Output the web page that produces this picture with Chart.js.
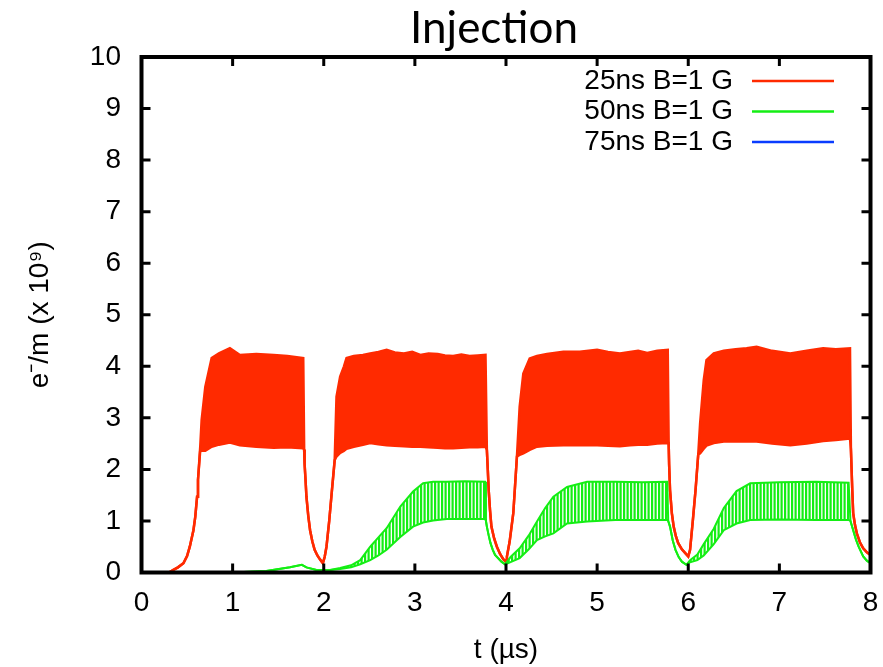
<!DOCTYPE html>
<html>
<head>
<meta charset="utf-8">
<title>Injection</title>
<script src="https://cdn.jsdelivr.net/npm/chart.js@4.4.1/dist/chart.umd.min.js"></script>
<style>
  body { margin: 0; background: #fff; }
</style>
</head>
<body>
<canvas id="chart" width="883" height="667"></canvas>
<script>
// DATA (t in microseconds, values in 1e9 e-/m)

const seriesLabels = ['25ns B=1 G', '50ns B=1 G', '75ns B=1 G'];
const xTicks = [0, 1, 2, 3, 4, 5, 6, 7, 8];
const yTicks = [0, 1, 2, 3, 4, 5, 6, 7, 8, 9, 10];

// 25ns: upper / lower edge of the fast oscillation (equal where it is a single line)
const tRed = [
    0, 0.30, 0.35, 0.40, 0.46, 0.50, 0.53, 0.57, 0.59, 0.61, 0.62, 0.645, 0.66, 0.70, 0.77, 0.85, 0.97, 1.08, 1.26, 1.45, 1.60, 1.775,
    1.785, 1.79, 1.80, 1.81, 1.83, 1.85, 1.875, 1.90, 1.93, 1.96, 1.99,
    2.01, 2.03, 2.06, 2.09, 2.12, 2.14, 2.18, 2.22, 2.25, 2.33, 2.43, 2.51, 2.60, 2.69, 2.78, 2.88, 2.97, 3.06, 3.15, 3.25, 3.33, 3.42, 3.51, 3.60, 3.69, 3.775,
    3.79, 3.80, 3.81, 3.825, 3.84, 3.87, 3.90, 3.935, 3.97, 4.00,
    4.01, 4.04, 4.08, 4.10, 4.12, 4.15, 4.19, 4.26, 4.34, 4.45, 4.63, 4.81, 5.00, 5.12, 5.25, 5.36, 5.45, 5.55, 5.66, 5.775,
    5.785, 5.79, 5.80, 5.82, 5.84, 5.865, 5.89, 5.93, 5.97, 6.00,
    6.02, 6.05, 6.08, 6.11, 6.13, 6.17, 6.20, 6.28, 6.39, 6.52, 6.64, 6.75, 6.92, 7.12, 7.30, 7.48, 7.62, 7.775,
    7.785, 7.80, 7.81, 7.83, 7.85, 7.885, 7.92, 7.96, 8.00
];
const redHigh = [
    0, 0, 0.05, 0.1, 0.18, 0.32, 0.5, 0.82, 1.08, 1.47, 1.8, 2.45, 2.96, 3.6, 4.16, 4.25, 4.35, 4.22, 4.24, 4.22, 4.2, 4.16,
    2.38, 2.1, 1.8, 1.47, 1.1, 0.82, 0.6, 0.44, 0.33, 0.25, 0.18,
    0.3, 0.5, 1.0, 1.6, 2.18, 3.41, 3.8, 3.99, 4.16, 4.2, 4.22, 4.25, 4.28, 4.32, 4.27, 4.25, 4.28, 4.22, 4.25, 4.24, 4.21, 4.2, 4.23, 4.2, 4.21, 4.22,
    2.38, 2.0, 1.6, 1.2, 0.89, 0.66, 0.5, 0.36, 0.26, 0.21,
    0.31, 0.6, 1.15, 1.7, 2.25, 3.22, 3.86, 4.15, 4.2, 4.24, 4.28, 4.28, 4.32, 4.28, 4.25, 4.28, 4.3, 4.26, 4.3, 4.32,
    2.51, 2.1, 1.6, 1.15, 0.89, 0.7, 0.57, 0.45, 0.37, 0.31,
    0.44, 1.0, 1.6, 2.3, 2.89, 3.73, 4.12, 4.25, 4.3, 4.33, 4.35, 4.38, 4.3, 4.25, 4.3, 4.35, 4.33, 4.35,
    2.4, 1.6, 1.15, 0.92, 0.76, 0.58, 0.47, 0.39, 0.34
];
const redLow = [
    0, 0, 0.05, 0.1, 0.18, 0.32, 0.5, 0.82, 1.08, 1.47, 1.8, 2.38, 2.36, 2.36, 2.44, 2.48, 2.52, 2.47, 2.44, 2.42, 2.43, 2.41,
    2.38, 2.1, 1.8, 1.47, 1.1, 0.82, 0.6, 0.44, 0.33, 0.25, 0.18,
    0.3, 0.5, 1.0, 1.6, 2.18, 2.25, 2.32, 2.36, 2.4, 2.44, 2.48, 2.51, 2.49, 2.47, 2.46, 2.45, 2.44, 2.44, 2.43, 2.42, 2.41, 2.41, 2.42, 2.43, 2.43, 2.44,
    2.38, 2.0, 1.6, 1.2, 0.89, 0.66, 0.5, 0.36, 0.26, 0.21,
    0.31, 0.6, 1.15, 1.7, 2.25, 2.28, 2.31, 2.38, 2.44, 2.46, 2.47, 2.47, 2.47, 2.46, 2.45, 2.47, 2.48, 2.48, 2.5, 2.51,
    2.51, 2.1, 1.6, 1.15, 0.89, 0.7, 0.57, 0.45, 0.37, 0.31,
    0.44, 1.0, 1.6, 2.3, 2.31, 2.4, 2.46, 2.51, 2.54, 2.54, 2.54, 2.54, 2.5, 2.47, 2.5, 2.55, 2.57, 2.6,
    2.4, 1.6, 1.15, 0.92, 0.76, 0.58, 0.47, 0.39, 0.34
];

// 50ns: upper / lower edge of the zigzag
const tGreen = [
    0, 1.00, 1.37, 1.63, 1.76, 1.81, 1.92, 2.07, 2.18, 2.30, 2.40, 2.51, 2.60, 2.69, 2.84, 2.98, 3.09, 3.20, 3.35, 3.55, 3.77,
    3.78, 3.79, 3.81, 3.83, 3.855, 3.88, 3.95, 3.99,
    4.05, 4.15, 4.25, 4.34, 4.43, 4.52, 4.67, 4.89, 5.20, 5.50, 5.77,
    5.78, 5.80, 5.83, 5.86, 5.895, 5.93, 5.98,
    6.02, 6.10, 6.17, 6.28, 6.39, 6.53, 6.68, 7.00, 7.40, 7.76,
    7.78, 7.81, 7.84, 7.87, 7.92, 7.96, 8.00
];
const greenHigh = [
    0, 0, 0.03, 0.1, 0.15, 0.1, 0.05, 0.05, 0.09, 0.14, 0.24, 0.5, 0.68, 0.86, 1.28, 1.57, 1.73, 1.76, 1.76, 1.77, 1.76,
    1.0, 0.89, 0.72, 0.57, 0.44, 0.34, 0.21, 0.16,
    0.3, 0.47, 0.72, 0.99, 1.25, 1.47, 1.66, 1.76, 1.76, 1.75, 1.76,
    1.0, 0.89, 0.62, 0.44, 0.3, 0.21, 0.15,
    0.24, 0.35, 0.55, 0.85, 1.25, 1.58, 1.73, 1.75, 1.76, 1.74,
    1.0, 0.82, 0.64, 0.5, 0.31, 0.23, 0.18
];
const greenLow = [
    0, 0, 0.03, 0.1, 0.15, 0.1, 0.05, 0.05, 0.07, 0.1, 0.16, 0.24, 0.33, 0.44, 0.69, 0.89, 0.97, 1.01, 1.04, 1.04, 1.04,
    1.0, 0.89, 0.72, 0.57, 0.44, 0.34, 0.21, 0.16,
    0.2, 0.28, 0.45, 0.63, 0.7, 0.76, 0.95, 0.99, 1.02, 1.02, 1.02,
    1.0, 0.89, 0.62, 0.44, 0.3, 0.21, 0.15,
    0.2, 0.24, 0.33, 0.55, 0.82, 0.95, 1.02, 1.03, 1.02, 1.02,
    1.0, 0.82, 0.64, 0.5, 0.31, 0.23, 0.18
];

// 75ns: stays on zero
const tBlue = [0, 8];
const blueVals = [0, 0];

// STYLE

const RED = '#ff2a00';
const GREEN = '#14ee14';
const BLUE = '#0a3cff';
const FONT = 'Liberation Sans, Arial, Helvetica, sans-serif';

function pts(ts, vs) {
    return ts.map((t, i) => ({ x: t, y: vs[i] }));
}

// zigzag look for the 50ns band
const stripe = document.createElement('canvas');
stripe.width = 7;
stripe.height = 4;
const sctx = stripe.getContext('2d');
sctx.fillStyle = GREEN;
sctx.fillRect(0, 0, 2.2, 4);
sctx.fillRect(3.5, 0, 2.2, 4);

const canvas = document.getElementById('chart');
const ctx = canvas.getContext('2d');
const greenPattern = ctx.createPattern(stripe, 'repeat');

// FRAME, INWARD TICKS, LEGEND, TITLE

const gnuplotLook = {
    id: 'gnuplotLook',
    afterDatasetsDraw(chart) {
        const c = chart.ctx;
        const { left, right, top, bottom } = chart.chartArea;
        const xs = chart.scales.x;
        const ys = chart.scales.y;

        c.save();
        c.strokeStyle = '#000';
        c.lineWidth = 3;
        xTicks.forEach(v => {
            const px = xs.getPixelForValue(v);
            c.beginPath();
            c.moveTo(px, bottom); c.lineTo(px, bottom - 9);
            c.moveTo(px, top); c.lineTo(px, top + 9);
            c.stroke();
        });
        yTicks.forEach(v => {
            const py = ys.getPixelForValue(v);
            c.beginPath();
            c.moveTo(left, py); c.lineTo(left + 9, py);
            c.moveTo(right, py); c.lineTo(right - 9, py);
            c.stroke();
        });
        c.lineWidth = 4;
        c.strokeRect(left, top, right - left, bottom - top);

        // legend
        const colors = [RED, GREEN, BLUE];
        c.font = '28px ' + FONT;
        c.fillStyle = '#000';
        c.textAlign = 'right';
        c.textBaseline = 'middle';
        seriesLabels.forEach((label, i) => {
            const y = 81 + i * 30.5;
            c.fillText(label, 733, y);
            c.strokeStyle = colors[i];
            c.lineWidth = 2.5;
            c.beginPath();
            c.moveTo(752, y);
            c.lineTo(834, y);
            c.stroke();
        });

        // title
        c.font = '44px Lato, sans-serif';
        c.textAlign = 'center';
        c.textBaseline = 'alphabetic';
        c.fillText('Injection', 494, 43);
        c.restore();
    }
};

// CHART

new Chart(ctx, {
    type: 'line',
    data: {
        datasets: [
            {
                label: seriesLabels[2],
                data: pts(tBlue, blueVals),
                borderColor: BLUE,
                borderWidth: 2.5,
                fill: false
            },
            {
                label: seriesLabels[1],
                data: pts(tGreen, greenHigh),
                borderColor: GREEN,
                borderWidth: 2,
                backgroundColor: greenPattern,
                fill: '+1'
            },
            {
                label: seriesLabels[1] + ' low',
                data: pts(tGreen, greenLow),
                borderColor: GREEN,
                borderWidth: 2,
                fill: false
            },
            {
                label: seriesLabels[0],
                data: pts(tRed, redHigh),
                borderColor: RED,
                borderWidth: 2.5,
                backgroundColor: RED,
                fill: '+1'
            },
            {
                label: seriesLabels[0] + ' low',
                data: pts(tRed, redLow),
                borderColor: RED,
                borderWidth: 2.5,
                fill: false
            }
        ]
    },
    options: {
        responsive: false,
        animation: false,
        devicePixelRatio: 1,
        layout: { padding: { top: 57, right: 12.5, left: 0, bottom: 0 } },
        elements: { point: { radius: 0 }, line: { tension: 0 } },
        plugins: {
            legend: { display: false },
            title: { display: false },
            tooltip: { enabled: false }
        },
        scales: {
            x: {
                type: 'linear',
                min: 0,
                max: 8,
                afterFit: s => {
                    s.height = 94.5;
                    s.paddingLeft = 0;
                    s.paddingRight = 0;
                },
                afterBuildTicks: s => { s.ticks = xTicks.map(v => ({ value: v })); },
                grid: { display: false, drawTicks: false },
                border: { display: false },
                ticks: {
                    color: '#000',
                    font: { family: FONT, size: 28 },
                    padding: 13.5,
                    maxRotation: 0,
                    callback: v => String(v)
                },
                title: {
                    display: true,
                    text: 't (µs)',
                    color: '#000',
                    font: { family: FONT, size: 28 },
                    padding: { top: 0, bottom: 0 }
                }
            },
            y: {
                min: 0,
                max: 10,
                afterFit: s => { s.width = 141.5; },
                afterBuildTicks: s => { s.ticks = yTicks.map(v => ({ value: v })); },
                grid: { display: false, drawTicks: false },
                border: { display: false },
                ticks: {
                    color: '#000',
                    font: { family: FONT, size: 28 },
                    padding: 20.5,
                    callback: v => String(v)
                },
                title: {
                    display: true,
                    text: 'e⁻/m (x 10⁹)',
                    color: '#000',
                    font: { family: FONT, size: 28 },
                    padding: { top: 23, bottom: 0 }
                }
            }
        }
    },
    plugins: [gnuplotLook]
});
</script>
</body>
</html>
